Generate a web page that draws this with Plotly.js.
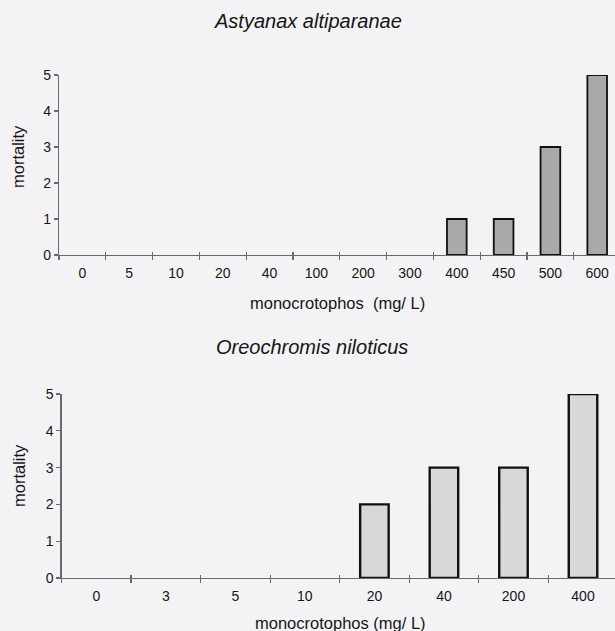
<!DOCTYPE html>
<html>
<head>
<meta charset="utf-8">
<script src="https://cdn.plot.ly/plotly-3.0.1.min.js"></script>
<style>html,body{margin:0;padding:0;background:#f3f3f5;}#chart{width:615px;height:631px;}</style>
</head>
<body>
<div id="chart"></div>
<script>
// Data
var topTitle = "Astyanax altiparanae";
var topCategories = ["0", "5", "10", "20", "40", "100", "200", "300", "400", "450", "500", "600"];
var topMortality = [0, 0, 0, 0, 0, 0, 0, 0, 1, 1, 3, 5];

var bottomTitle = "Oreochromis niloticus";
var bottomCategories = ["0", "3", "5", "10", "20", "40", "200", "400"];
var bottomMortality = [0, 0, 0, 0, 2, 3, 3, 5];

var xTitle = "monocrotophos (mg/ L)";
var xTitleTop = "monocrotophos  (mg/ L)";
var yTitle = "mortality";
var yTicks = [0, 1, 2, 3, 4, 5];

var FONT = "Liberation Sans, Arial, sans-serif";
var axisCol = "#6a6a6a";
var textCol = "#161616";

function boundaries(n){ var b=[]; for (var i=0;i<=n;i++) b.push(i-0.5); return b; }
function outline(vals, w){ return vals.map(function(v){ return v > 0 ? w : 0; }); }

var topRange = [-0.5, topCategories.length - 0.62];
var botRange = [-0.5, bottomCategories.length - 0.54];

var traces = [
  {type:"bar", x: topCategories, y: topMortality, xaxis:"x", yaxis:"y", width:0.42,
   marker:{color:"#a9a9ab", line:{color:"#111", width:outline(topMortality, 1.8)}}, hoverinfo:"x+y"},
  {type:"bar", x: bottomCategories, y: bottomMortality, xaxis:"x2", yaxis:"y2", width:0.41,
   marker:{color:"#d8d8da", line:{color:"#111", width:outline(bottomMortality, 2.4)}}, hoverinfo:"x+y"},
  {type:"scatter", mode:"markers", x:[], y:[], xaxis:"x3", yaxis:"y", hoverinfo:"skip"},
  {type:"scatter", mode:"markers", x:[], y:[], xaxis:"x4", yaxis:"y2", hoverinfo:"skip"}
];

function xAx(domain, range, anchor){
  return {domain:domain, anchor:anchor, type:"category", range:range,
    showgrid:false, zeroline:false, showline:true, linecolor:axisCol, linewidth:1.5,
    ticks:"outside", tickson:"boundaries", ticklen:4, tickcolor:axisCol, tickwidth:1.2,
    ticklabelstandoff:5, tickfont:{family:FONT, size:14, color:textCol}, fixedrange:true};
}
function xOver(over, range, anchor, n){
  return {overlaying:over, anchor:anchor, type:"linear", range:range,
    tickmode:"array", tickvals:boundaries(n), ticks:"inside", ticklen:3,
    tickcolor:axisCol, tickwidth:1.2, showticklabels:false, showgrid:false,
    zeroline:false, showline:false, fixedrange:true};
}
function yAx(domain, anchor){
  return {domain:domain, anchor:anchor, range:[0,5], tickmode:"array", tickvals:yTicks,
    showgrid:false, zeroline:false, showline:true, linecolor:axisCol, linewidth:1.2,
    ticks:"outside", ticklen:4, tickcolor:axisCol, tickwidth:1.2,
    tickfont:{family:FONT, size:14, color:textCol}, fixedrange:true};
}

var layout = {
  width:615, height:631,
  margin:{l:0, r:0, t:0, b:0, pad:0},
  paper_bgcolor:"#f3f3f5", plot_bgcolor:"rgba(0,0,0,0)",
  showlegend:false,
  xaxis: xAx([0.0959, 1.0], topRange, "y"),
  yaxis: yAx([0.5959, 0.8811], "x"),
  xaxis2: xAx([0.1, 1.0], botRange, "y2"),
  yaxis2: yAx([0.0840, 0.3756], "x2"),
  xaxis3: xOver("x", topRange, "y", topCategories.length),
  xaxis4: xOver("x2", botRange, "y2", bottomCategories.length),
  annotations: [
    {text:topTitle, xref:"paper", yref:"paper", x:308/615, y:1-21/631, xanchor:"center", yanchor:"middle",
     showarrow:false, font:{family:FONT, size:20, color:textCol, style:"italic"}},
    {text:bottomTitle, xref:"paper", yref:"paper", x:312/615, y:1-347/631, xanchor:"center", yanchor:"middle",
     showarrow:false, font:{family:FONT, size:20, color:textCol, style:"italic"}},
    {text:xTitleTop, xref:"paper", yref:"paper", x:337/615, y:1-303/631, xanchor:"center", yanchor:"middle",
     showarrow:false, font:{family:FONT, size:16.5, color:textCol}},
    {text:xTitle, xref:"paper", yref:"paper", x:340/615, y:1-623/631, xanchor:"center", yanchor:"middle",
     showarrow:false, font:{family:FONT, size:16.5, color:textCol}},
    {text:yTitle, xref:"paper", yref:"paper", x:18/615, y:1-157/631, xanchor:"center", yanchor:"middle",
     textangle:-90, showarrow:false, font:{family:FONT, size:16.5, color:textCol}},
    {text:yTitle, xref:"paper", yref:"paper", x:19/615, y:1-476/631, xanchor:"center", yanchor:"middle",
     textangle:-90, showarrow:false, font:{family:FONT, size:16.5, color:textCol}}
  ]
};

Plotly.newPlot("chart", traces, layout, {displayModeBar:false, staticPlot:true});
</script>
</body>
</html>
